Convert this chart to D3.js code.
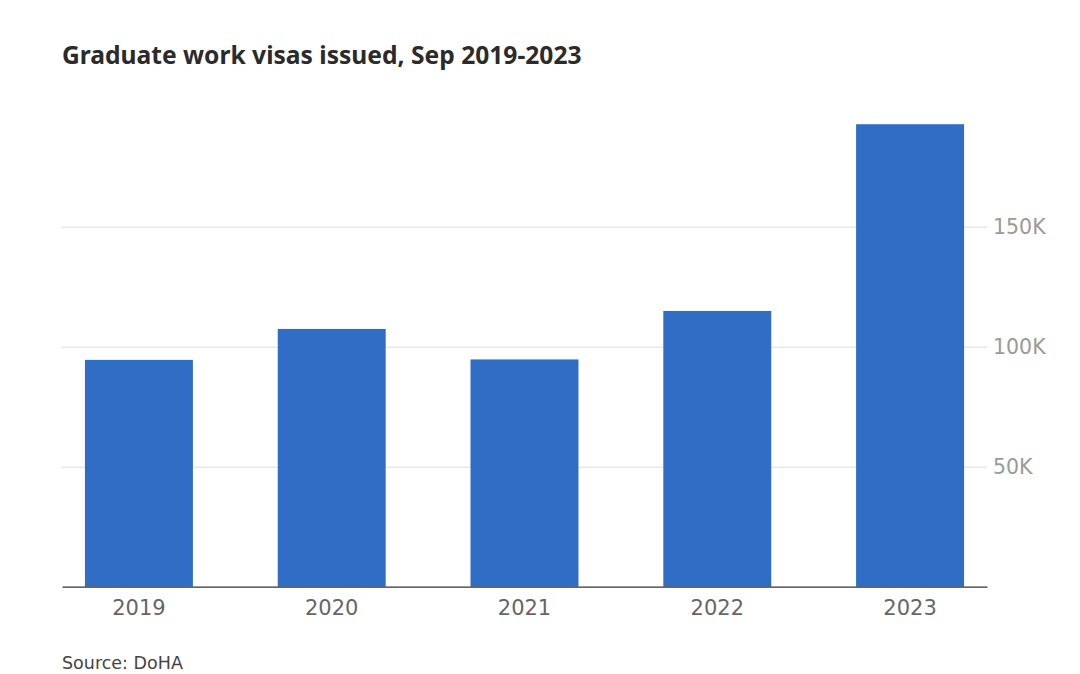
<!DOCTYPE html>
<html><head><meta charset="utf-8">
<script src="https://cdn.jsdelivr.net/npm/d3@7"></script>
<style>body{margin:0;background:#fff;} svg{display:block;}</style>
</head><body>
<svg id="chart" width="1080" height="674"></svg>
<script>
const categories = ["2019","2020","2021","2022","2023"];
const values = [94500, 107400, 94700, 114900, 192700];
const yTicks = [50000, 100000, 150000];
const yTickLabels = ["50K","100K","150K"];

const svg = d3.select("#chart");
const titleFont = "'Noto Sans', 'Open Sans', sans-serif";
const font = "'DejaVu Sans', 'Noto Sans', sans-serif";
const left = 62, right = 987, bottom = 586.7;
const x = d3.scaleBand().domain(categories).range([left, right]).paddingInner(0.44).paddingOuter(0.119);
const y = d3.scaleLinear().domain([0, 50000]).range([bottom, bottom - 120]);

svg.append("text").attr("x", 62).attr("y", 64).text("Graduate work visas issued, Sep 2019-2023")
  .attr("font-family", titleFont).attr("font-weight", 700).attr("font-size", 24.6).attr("fill", "#2b2b2b");

const yAxis = d3.axisRight(y).tickValues(yTicks).tickFormat((d,i)=>yTickLabels[i])
  .tickSize(-(right - left)).tickPadding(8);
const gy = svg.append("g").attr("transform", `translate(${right},0)`).call(yAxis);
gy.select(".domain").remove();
gy.selectAll(".tick line").attr("stroke", "#dcdcdc").attr("stroke-width", 1);
gy.selectAll(".tick text").attr("font-family", font).attr("font-size", 20.5).attr("fill", "#9a9a9a").attr("x", 6);

svg.append("g").selectAll("rect").data(values).join("rect")
  .attr("x", (d,i)=>x(categories[i])).attr("width", x.bandwidth())
  .attr("y", d=>y(d)).attr("height", d=>bottom - y(d)).attr("fill", "#2f6ec4");

const xAxis = d3.axisBottom(x).tickSize(0).tickPadding(13);
const gx = svg.append("g").attr("transform", `translate(0,${bottom})`).call(xAxis);
gx.select(".domain").attr("stroke", "#333").attr("stroke-width", 1.3);
gx.selectAll(".tick text").attr("font-family", font).attr("font-size", 21).attr("fill", "#666");

svg.append("text").attr("x", 62).attr("y", 669).text("Source: DoHA")
  .attr("font-family", font).attr("font-size", 17.5).attr("fill", "#444");
</script>
</body></html>
